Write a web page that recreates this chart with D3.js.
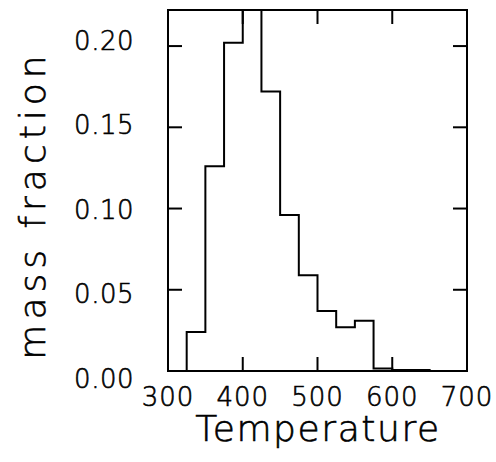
<!DOCTYPE html>
<html>
<head>
<meta charset="utf-8">
<script src="https://cdn.jsdelivr.net/npm/d3@7"></script>
<style>
  body { margin: 0; background: #fff; }
  text { font-family: "DejaVu Sans", sans-serif; font-weight: 200; fill: #000; stroke: #000; stroke-width: 0.6px; }
</style>
</head>
<body>
<div id="chart"></div>
<script>
// bin left edges (width 25) and mass fraction per bin
const binStart = [300, 325, 350, 375, 400, 425, 450, 475, 500, 525, 550, 575, 600, 625, 650, 675];
const massFraction = [0, 0.024, 0.126, 0.202, 0.235, 0.172, 0.096, 0.059, 0.037, 0.027, 0.031, 0.0015, 0.0006, 0.0006, 0, 0];
const xTicks = [300, 400, 500, 600, 700];
const yTicks = [0, 0.05, 0.10, 0.15, 0.20];

const width = 496, height = 462;
const plot = {left: 168, right: 467, top: 10, bottom: 371};

const svg = d3.select("#chart").append("svg")
    .attr("width", width)
    .attr("height", height);

const x = d3.scaleLinear().domain([300, 700]).range([plot.left, plot.right]);
const y = d3.scaleLinear().domain([0, 0.2222]).range([plot.bottom, plot.top]);
// tick labels sit a bit spread out compared to the ticks
const yLabel = d3.scaleLinear().domain([0, 0.2]).range([378.5, 40.3]);

svg.append("clipPath").attr("id", "clip")
    .append("rect")
    .attr("x", plot.left).attr("y", plot.top)
    .attr("width", plot.right - plot.left).attr("height", plot.bottom - plot.top);

// histogram outline as a step line
const pts = binStart.map((b, i) => [b, massFraction[i]]);
pts.push([700, 0]);
const line = d3.line()
    .x(d => x(d[0]))
    .y(d => y(d[1]))
    .curve(d3.curveStepAfter);

svg.append("path")
    .attr("d", line(pts))
    .attr("clip-path", "url(#clip)")
    .attr("fill", "none")
    .attr("stroke", "#000")
    .attr("stroke-width", 2);

// inward ticks on all four sides
const tickLen = 14;
const tk = svg.append("g").attr("stroke", "#000").attr("stroke-width", 2);
xTicks.forEach(v => {
    tk.append("line").attr("x1", x(v)).attr("x2", x(v)).attr("y1", plot.bottom).attr("y2", plot.bottom - tickLen);
    tk.append("line").attr("x1", x(v)).attr("x2", x(v)).attr("y1", plot.top).attr("y2", plot.top + tickLen);
});
yTicks.forEach(v => {
    tk.append("line").attr("x1", plot.left).attr("x2", plot.left + tickLen).attr("y1", y(v)).attr("y2", y(v));
    tk.append("line").attr("x1", plot.right).attr("x2", plot.right - tickLen).attr("y1", y(v)).attr("y2", y(v));
});

// frame
svg.append("rect")
    .attr("x", plot.left).attr("y", plot.top)
    .attr("width", plot.right - plot.left).attr("height", plot.bottom - plot.top)
    .attr("fill", "none")
    .attr("stroke", "#000")
    .attr("stroke-width", 2);

// tick labels
svg.selectAll(".xl")
    .data(xTicks)
    .enter().append("text")
    .attr("x", d => x(d))
    .attr("y", 406)
    .attr("text-anchor", "middle")
    .attr("font-size", 26)
    .attr("letter-spacing", 1)
    .text(d => d);

svg.selectAll(".yl")
    .data(yTicks)
    .enter().append("text")
    .attr("x", 134)
    .attr("y", d => yLabel(d))
    .attr("dy", "0.36em")
    .attr("text-anchor", "end")
    .attr("font-size", 26)
    .attr("letter-spacing", 0.5)
    .text(d => d3.format(".2f")(d));

// axis titles
svg.append("text")
    .attr("x", 318)
    .attr("y", 441)
    .attr("text-anchor", "middle")
    .attr("font-size", 36)
    .attr("letter-spacing", 1.6)
    .text("Temperature");

svg.append("text")
    .attr("transform", "translate(45,205) rotate(-90)")
    .attr("text-anchor", "middle")
    .attr("font-size", 36)
    .attr("letter-spacing", 5)
    .text("mass fraction");
</script>
</body>
</html>
